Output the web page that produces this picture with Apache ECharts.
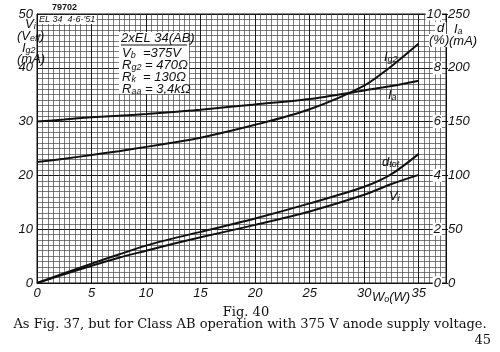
<!DOCTYPE html>
<html>
<head>
<meta charset="utf-8">
<script src="https://cdn.jsdelivr.net/npm/echarts@6/dist/echarts.min.js"></script>
<style>
  html, body { margin: 0; padding: 0; background: #fff; }
  #chart { width: 500px; height: 352px; }
</style>
</head>
<body>
<div id="chart"></div>
<script>
// output power W_o (W)
const wPoints = [0, 2.5, 5, 7.5, 10, 12.5, 15, 20, 25, 30, 32.5, 35];
// anode current (mA, right axis)
const iaValues = [150, 152, 154, 155.5, 157, 159, 161, 166, 171, 179, 183, 188];
// screen grid current (mA, left axis)
const ig2Values = [22.5, 23.1, 23.8, 24.5, 25.3, 26.1, 27.0, 29.4, 32.3, 36.7, 40.3, 44.5];
// total distortion (%, right inner axis)
const dTotValues = [0, 0.36, 0.72, 1.06, 1.39, 1.66, 1.9, 2.4, 2.96, 3.58, 4.05, 4.8];
// input voltage (V eff, left axis)
const viValues = [0, 1.6, 3.2, 4.7, 6.0, 7.3, 8.5, 10.8, 13.3, 16.4, 18.4, 20.1];

const xTicks = [0, 5, 10, 15, 20, 25, 30, 35];
const leftTicks = [0, 10, 20, 30, 40, 50];
const dTicks = [0, 2, 4, 6, 8, 10];
const iaTicks = [0, 50, 100, 150, 200, 250];

const pairs = (vals) => wPoints.map((w, i) => [w, vals[i]]);

const sans = 'Liberation Sans';
const serif = 'DejaVu Serif';
const ink = '#111';

const chart = echarts.init(document.getElementById('chart'));

const subRich = {
  m: { fontFamily: sans, fontStyle: 'italic', fontSize: 13, color: ink },
  s: { fontFamily: sans, fontStyle: 'italic', fontSize: 9, color: ink, verticalAlign: 'bottom', padding: [5, 0, 0, 0] }
};

function label(x, y, text, extra) {
  return {
    type: 'text', z: 100, x: x, y: y,
    style: Object.assign({ text: text, rich: subRich, fill: ink, font: 'italic 13px ' + sans }, extra || {})
  };
}

const option = {
  animation: false,
  backgroundColor: '#fff',
  grid: { left: 37, right: 54, top: 14, bottom: 69, show: true, borderColor: ink, borderWidth: 1 },
  xAxis: {
    type: 'value', min: 0, max: 37.5, interval: 5,
    axisLine: { show: true, lineStyle: { color: ink, width: 1 } },
    axisTick: { show: false },
    axisLabel: {
      color: ink, fontFamily: sans, fontStyle: 'italic', fontSize: 13, margin: 4,
      formatter: (v) => xTicks.indexOf(v) >= 0 ? String(v) : ''
    },
    splitLine: { show: true, lineStyle: { color: '#1a1a1a', width: 1 } },
    minorTick: { show: false, splitNumber: 10 },
    minorSplitLine: { show: true, lineStyle: { color: '#444', width: 0.7 } }
  },
  yAxis: [
    {
      type: 'value', min: 0, max: 50, interval: 10, position: 'left',
      axisLine: { show: true, lineStyle: { color: ink, width: 1 } },
      axisTick: { show: false },
      axisLabel: {
        color: ink, fontFamily: sans, fontStyle: 'italic', fontSize: 13, margin: 4,
        formatter: (v) => leftTicks.indexOf(v) >= 0 ? String(v) : ''
      },
      splitLine: { show: true, lineStyle: { color: '#1a1a1a', width: 1 } },
      minorTick: { show: false, splitNumber: 10 },
      minorSplitLine: { show: true, lineStyle: { color: '#444', width: 0.7 } }
    },
    {
      type: 'value', min: 0, max: 10, interval: 2, position: 'right',
      axisLine: { show: true, lineStyle: { color: ink, width: 1 } },
      axisTick: { show: true, inside: true, length: 3, lineStyle: { color: ink } },
      axisLabel: {
        inside: true, margin: 4, color: ink, fontFamily: sans, fontStyle: 'italic', fontSize: 13,
        backgroundColor: '#fff', padding: [0, 1, 0, 1],
        formatter: (v) => dTicks.indexOf(v) >= 0 ? String(v) : ''
      },
      splitLine: { show: false }
    },
    {
      type: 'value', min: 0, max: 250, interval: 50, position: 'right',
      axisLine: { show: false },
      axisTick: { show: true, length: 2, lineStyle: { color: ink } },
      axisLabel: {
        margin: 2, color: ink, fontFamily: sans, fontStyle: 'italic', fontSize: 13,
        formatter: (v) => iaTicks.indexOf(v) >= 0 ? String(v) : ''
      },
      splitLine: { show: false }
    }
  ],
  series: [
    { name: 'Ia', type: 'line', yAxisIndex: 2, data: pairs(iaValues), smooth: 0.3, showSymbol: false, lineStyle: { color: ink, width: 2 }, z: 10 },
    { name: 'Ig2', type: 'line', yAxisIndex: 0, data: pairs(ig2Values), smooth: 0.3, showSymbol: false, lineStyle: { color: ink, width: 2 }, z: 10 },
    { name: 'dtot', type: 'line', yAxisIndex: 1, data: pairs(dTotValues), smooth: 0.3, showSymbol: false, lineStyle: { color: ink, width: 2 }, z: 10 },
    { name: 'Vi', type: 'line', yAxisIndex: 0, data: pairs(viValues), smooth: 0.3, showSymbol: false, lineStyle: { color: ink, width: 2 }, z: 10 }
  ],
  graphic: [
    // white patch under the settings block: drawn first, same z as the text
    { type: 'rect', z: 100, shape: { x: 119, y: 32, width: 70, height: 62 }, style: { fill: '#fff' } },
    { type: 'text', z: 100, x: 119, y: 32, style: { text: '.', font: '13px ' + sans, fill: '#fff', backgroundColor: '#fff', padding: [24, 32, 23, 33] } },
    // plate id and date
    { type: 'text', z: 100, x: 52, y: 3, style: { text: '79702', font: 'bold 9px ' + sans, fill: ink } },
    { type: 'text', z: 100, x: 38, y: 15, style: { text: "EL 34  4-6-'51", font: 'italic 9px ' + sans, fill: ink, backgroundColor: '#fff', padding: [0, 1, 0, 1] } },
    // left axis name
    label(25, 17, '{m|V}{s|i}'),
    label(17, 29, '{m|(V}{s|eff}{m|)}'),
    label(22, 41, '{m|I}{s|g2}'),
    label(17, 53, '{m|(mA)}'),
    // right axis names
    label(435, 22, 'd', { backgroundColor: '#fff', padding: [0, 2, 0, 2] }),
    label(429, 34, '(%)', { backgroundColor: '#fff' }),
    label(454, 22, '{m|I}{s|a}'),
    label(449, 35, '(mA)'),
    // settings
    label(121, 32, '2xEL 34(AB)'),
    { type: 'line', z: 100, shape: { x1: 121, y1: 45, x2: 187, y2: 45 }, style: { stroke: ink, lineWidth: 1 } },
    label(122, 46, '{m|V}{s|b}{m|  =375V}'),
    label(122, 58, '{m|R}{s|g2}{m| = 470Ω}'),
    label(122, 70, '{m|R}{s|k}{m|  = 130Ω}'),
    label(122, 82, '{m|R}{s|aa}{m| = 3,4kΩ}'),
    // curve labels
    label(384, 50, '{m|I}{s|g2}'),
    label(388, 88, '{m|I}{s|a}'),
    label(382, 155, '{m|d}{s|tot}'),
    label(389, 189, '{m|V}{s|i}'),
    // x axis name
    label(372, 290, '{m|W}{s|o}{m|(W)}'),
    // caption
    { type: 'text', z: 100, x: 246, y: 306, style: { text: 'Fig. 40', font: '13px ' + serif, fill: ink, align: 'center' } },
    { type: 'text', z: 100, x: 250, y: 318, style: { text: 'As Fig. 37, but for Class AB operation with 375 V anode supply voltage.', font: '13px ' + serif, fill: ink, align: 'center' } },
    { type: 'text', z: 100, x: 491, y: 334, style: { text: '45', font: '13px ' + serif, fill: ink, align: 'right' } }
  ]
};

chart.setOption(option);
</script>
</body>
</html>
